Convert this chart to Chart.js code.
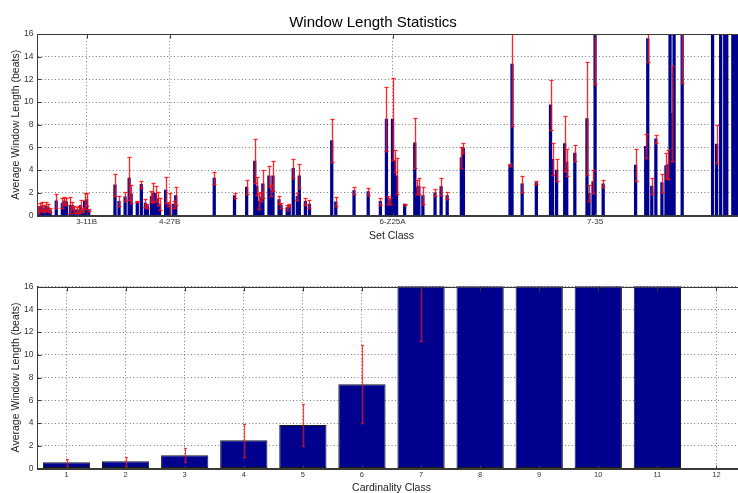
<!DOCTYPE html>
<html>
<head>
<meta charset="utf-8">
<title>Window Length Statistics</title>
<script src="https://cdn.jsdelivr.net/npm/chart.js@4/dist/chart.umd.min.js"></script>
<style>
    html, body { margin: 0; padding: 0; background: #fff; overflow: hidden; }
    #topBox { position: absolute; left: 0; top: 0; }
    #bottomBox { position: absolute; left: 0; top: 245px; }
</style>
</head>
<body>
<div id="topBox"><canvas id="setChart" width="760" height="245"></canvas></div>
<div id="bottomBox"><canvas id="cardChart" width="760" height="250"></canvas></div>
<script>
// set classes are indexed by Tn-type (1 .. 351); only classes with data are listed
var setIndex = [
    1, 2, 3, 4, 5, 6, 7,
    10, 13, 14, 15, 17, 18, 19, 20, 21, 22, 23, 24, 25, 26,
    39, 41, 44, 46, 47, 50, 52, 54, 55, 57, 58, 59, 60, 61, 64, 65, 66, 68, 69,
    88, 98, 104, 108, 109, 110, 111, 112, 115, 116, 117, 120, 121, 124, 125, 127, 129, 130, 133, 135,
    146, 148, 157, 164, 170, 173, 174, 175, 176, 177, 178, 182, 187, 188, 189, 191, 197, 200, 203, 210, 211,
    234, 235, 240, 247, 254, 255, 257, 261, 262, 266, 272, 273, 275, 276, 280,
    296, 301, 302, 304, 306, 309, 311, 312, 313, 314, 315, 319,
    334, 336, 338, 340, 341,
    344, 345, 346, 347, 348, 349, 350
];
var setMean = [
    0.55, 0.75, 0.85, 0.6, 0.8, 0.7, 0.5,
    1.3, 1.1, 1.3, 1.2, 0.9, 0.9, 0.5, 0.5, 0.5, 0.9, 0.5, 1.3, 1.4, 0.5,
    2.7, 1.25, 1.65, 3.3, 1.9, 1.2, 2.75, 1.1, 0.85, 1.7, 2.0, 1.95, 1.5, 1.0, 2.25, 1.0, 1.0, 1.0, 1.75,
    3.3, 1.75, 2.5, 4.8, 2.6, 1.25, 1.65, 2.8, 3.5, 2.2, 3.5, 1.4, 0.9, 0.7, 0.9, 4.15, 1.7, 3.5, 1.25, 1.0,
    6.6, 1.2, 2.2, 2.1, 1.25, 8.5, 1.4, 1.3, 8.5, 4.8, 3.5, 1.0, 6.4, 2.5, 2.6, 1.75, 2.0, 2.55, 1.75, 5.1, 5.95,
    4.45, 13.35, 2.8, 2.9, 9.75, 4.95, 4.0, 6.35, 4.7, 5.5, 8.55, 1.95, 3.0, 18.0, 2.8,
    4.45, 6.1, 15.6, 2.6, 6.75, 2.9, 4.4, 4.5, 19.0, 9.0, 21.0, 17.5,
    23.0, 6.3, 22.0, 26.0, 24.0,
    28.0, 30.0, 31.0, 33.0, 35.0, 36.0, 40.0
];
var setStd = [
    0.3, 0.35, 0.35, 0.3, 0.35, 0.3, 0.2,
    0.6, 0.45, 0.3, 0.3, 0.7, 0.3, 0.3, 0.25, 0.3, 0.5, 0.2, 0.7, 0.6, 0.1,
    1.0, 0.45, 0.4, 1.9, 0.8, 0.05, 0.3, 0.35, 0.15, 0.5, 0.85, 0.65, 0.6, 0.5, 1.15, 0.2, 1.0, 0.3, 0.8,
    0.55, 0.25, 0.6, 1.9, 0.8, 0.7, 0.4, 1.25, 0.9, 0.5, 1.3, 0.35, 0.2, 0.25, 0.15, 0.85, 0.3, 1.05, 0.3, 0.35,
    1.9, 0.4, 0.3, 0.3, 0.3, 2.8, 0.35, 0.25, 3.6, 1.0, 1.6, 0.05, 2.2, 0.6, 0.7, 0.75, 0.3, 0.75, 0.3, 0.95, 0.4,
    0.05, 5.45, 0.7, 0.15, 2.2, 1.4, 1.0, 2.45, 1.2, 0.7, 4.95, 0.7, 1.05, 6.4, 0.3,
    1.4, 1.05, 2.1, 0.7, 0.35, 0.8, 1.1, 1.3, 1.5, 4.2, 2.5, 5.8,
    4.0, 1.65, 3.0, 5.0, 4.0,
    4.0, 4.0, 5.0, 5.0, 6.0, 6.0, 0
];
var setTickIndex = [25, 66, 176, 276];
var setTickLabels = ['3-11B', '4-27B', '6-Z25A', '7-35'];

// averages per cardinality
var cardLabels = ['1', '2', '3', '4', '5', '6', '7', '8', '9', '10', '11', '12'];
var cardMean = [0.55, 0.63, 1.16, 2.48, 3.83, 7.41, 20.3, 25.0, 30.0, 36.0, 40.0, null];
var cardStd = [0.3, 0.38, 0.62, 1.47, 1.82, 3.41, 9.1, 6.0, 8.0, 9.0, 0, null];

var yTicks = [0, 2, 4, 6, 8, 10, 12, 14, 16];

var barBlue = 'rgb(0,0,143)';
var axisGray = '#3a3a3a';
var gridDots = 'rgba(60,60,60,0.7)';
var fontFamily = '"Liberation Sans", Arial, Helvetica, sans-serif';

Chart.defaults.font.family = fontFamily;
Chart.defaults.color = '#222';
Chart.defaults.animation = false;

// red mean +/- std lines with small caps, drawn over the bars
var errorBarPlugin = {
    id: 'errorBars',
    afterDatasetsDraw: function (chart, args, opts) {
        var ctx = chart.ctx;
        var area = chart.chartArea;
        var ys = chart.scales.y;
        var meta = chart.getDatasetMeta(0);
        ctx.save();
        ctx.beginPath();
        ctx.rect(area.left, area.top, area.right - area.left, area.bottom - area.top);
        ctx.clip();
        // soft halo first, then the solid stroke
        [[opts.haloWidth, opts.halo], [opts.width, opts.color]].forEach(function (pass) {
            ctx.lineWidth = pass[0];
            ctx.strokeStyle = pass[1];
            meta.data.forEach(function (bar, i) {
                var m = opts.mean[i], s = opts.std[i];
                if (m == null || s == null || !s) return;
                var x = Math.round(bar.x) + 0.5;
                var hi = Math.round(ys.getPixelForValue(m + s)) + 0.5;
                var lo = Math.round(ys.getPixelForValue(m - s)) + 0.5;
                ctx.beginPath();
                ctx.moveTo(x, lo);
                ctx.lineTo(x, hi);
                ctx.moveTo(x - opts.cap, hi);
                ctx.lineTo(x + opts.cap, hi);
                ctx.moveTo(x - opts.cap, lo);
                ctx.lineTo(x + opts.cap, lo);
                ctx.stroke();
            });
        });
        ctx.restore();
    }
};

// axes box with short inward tick marks
var axesBoxPlugin = {
    id: 'axesBox',
    afterDraw: function (chart) {
        var ctx = chart.ctx;
        var a = chart.chartArea;
        var l = Math.round(a.left) + 0.5, r = Math.round(a.right) + 0.5;
        var t = Math.round(a.top) + 0.5, b = Math.round(a.bottom) + 0.5;
        ctx.save();
        ctx.strokeStyle = axisGray;
        ctx.lineWidth = 1;
        ctx.strokeRect(l, t, r - l, b - t);
        ctx.beginPath();
        chart.scales.y.ticks.forEach(function (tk) {
            var y = Math.round(chart.scales.y.getPixelForValue(tk.value)) + 0.5;
            ctx.moveTo(l, y); ctx.lineTo(l + 4, y);
            ctx.moveTo(r, y); ctx.lineTo(r - 4, y);
        });
        var xs = chart.scales.x;
        xs.ticks.forEach(function (tk, i) {
            var x = Math.round(xs.getPixelForTick(i)) + 0.5;
            ctx.moveTo(x, b); ctx.lineTo(x, b - 4);
            ctx.moveTo(x, t); ctx.lineTo(x, t + 4);
        });
        ctx.stroke();
        ctx.restore();
    }
};

function yAxis() {
    return {
        min: 0,
        max: 16,
        afterBuildTicks: function (scale) {
            scale.ticks = yTicks.map(function (v) { return { value: v }; });
        },
        afterFit: function (scale) { scale.width = 37; },
        ticks: { padding: 3.5, color: '#333', font: { size: 8.5 } },
        grid: { drawTicks: false, color: gridDots, lineWidth: 1 },
        border: { color: axisGray, dash: [1, 2.4] },
        title: {
            display: true,
            text: 'Average Window Length (beats)',
            color: '#222',
            font: { size: 10.5 },
            padding: { top: 9.5, bottom: 0 }
        }
    };
}

// top: every set class
new Chart(document.getElementById('setChart'), {
    type: 'bar',
    data: {
        datasets: [{
            data: setIndex.map(function (x, i) { return { x: x, y: setMean[i] }; }),
            backgroundColor: barBlue,
            borderWidth: 0,
            barThickness: 2.6,
            clip: 0
        }]
    },
    options: {
        responsive: false,
        layout: { padding: { left: 0, right: 14, top: 0, bottom: 0 } },
        plugins: {
            legend: { display: false },
            tooltip: { enabled: false },
            title: {
                display: true,
                text: 'Window Length Statistics',
                color: '#000',
                font: { size: 15, weight: 'normal' },
                padding: { top: 14, bottom: 2 }
            },
            errorBars: {
                mean: setMean, std: setStd,
                color: 'rgba(255,0,0,0.8)', width: 1,
                halo: 'rgba(255,90,90,0.3)', haloWidth: 2.5,
                cap: 2
            }
        },
        scales: {
            x: {
                type: 'linear',
                min: 0.5,
                max: 350.5,
                offset: false,
                afterBuildTicks: function (scale) {
                    scale.ticks = setTickIndex.map(function (v) { return { value: v }; });
                },
                afterFit: function (scale) { scale.height = 29.5; },
                ticks: {
                    autoSkip: false,
                    maxRotation: 0,
                    padding: 1.5,
                    color: '#333',
                    font: { size: 8 },
                    callback: function (v) {
                        var k = setTickIndex.indexOf(v);
                        return k < 0 ? '' : setTickLabels[k];
                    }
                },
                grid: { drawTicks: false, offset: false, color: gridDots },
                border: { color: axisGray, dash: [1, 2.4] },
                title: {
                    display: true,
                    text: 'Set Class',
                    color: '#222',
                    font: { size: 10.5 },
                    padding: { top: 0, bottom: 2.4 }
                }
            },
            y: yAxis()
        }
    },
    plugins: [errorBarPlugin, axesBoxPlugin]
});

// bottom: averaged by cardinality
new Chart(document.getElementById('cardChart'), {
    type: 'bar',
    data: {
        labels: cardLabels,
        datasets: [{
            data: cardMean,
            backgroundColor: barBlue,
            borderColor: '#1a1a1a',
            borderWidth: 1,
            borderSkipped: false,
            barPercentage: 0.8,
            categoryPercentage: 1.0,
            clip: 0
        }]
    },
    options: {
        responsive: false,
        layout: { padding: { left: 0, right: 14, top: 41.5, bottom: 0 } },
        plugins: {
            legend: { display: false },
            tooltip: { enabled: false },
            errorBars: {
                mean: cardMean, std: cardStd,
                color: 'rgba(255,0,0,0.7)', width: 1,
                halo: 'rgba(255,90,90,0.25)', haloWidth: 2,
                cap: 1.5
            }
        },
        scales: {
            x: {
                offset: true,
                afterFit: function (scale) { scale.height = 26.5; },
                ticks: { autoSkip: false, maxRotation: 0, padding: 1.5, color: '#333', font: { size: 7.5 } },
                grid: { drawTicks: false, offset: false, color: gridDots },
                border: { color: axisGray, dash: [1, 2.4] },
                title: {
                    display: true,
                    text: 'Cardinality Class',
                    color: '#222',
                    font: { size: 10.5 },
                    padding: { top: 0, bottom: 0.4 }
                }
            },
            y: yAxis()
        }
    },
    plugins: [errorBarPlugin, axesBoxPlugin]
});
</script>
</body>
</html>
